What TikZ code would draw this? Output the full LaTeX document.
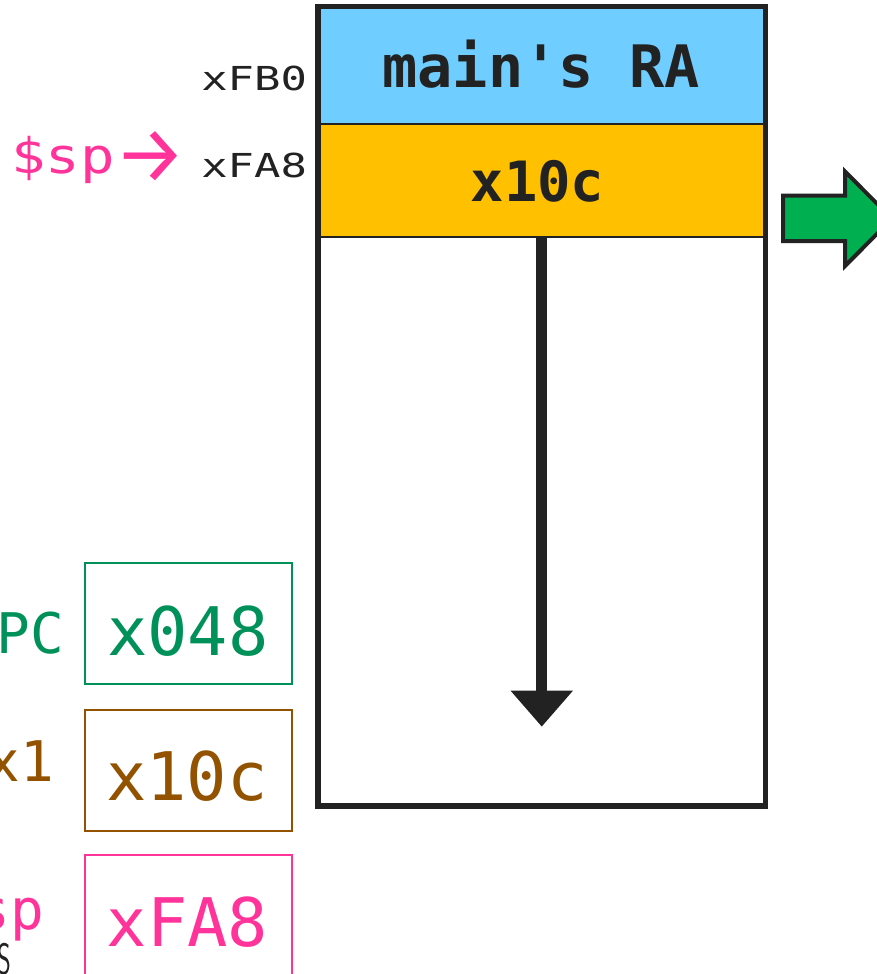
\documentclass[tikz,border=0pt]{standalone}
\usepackage{fontspec}
\setmonofont{DejaVu Sans Mono}
\newfontfamily\symfont{Fira Sans}
\usetikzlibrary{arrows.meta}
\definecolor{ink}{HTML}{222222}
\definecolor{skyfill}{HTML}{6FCDFF}
\definecolor{goldfill}{HTML}{FFC000}
\definecolor{pcgreen}{HTML}{00915A}
\definecolor{regbrown}{HTML}{935200}
\definecolor{sppink}{HTML}{FF3399}
\definecolor{jumpgreen}{HTML}{00B050}
\newcommand\fsz[1]{\fontsize{#1}{#1}\selectfont}

\begin{document}
\begin{tikzpicture}[x=1pt,y=-1pt,
  every node/.style={inner sep=0pt, outer sep=0pt},
  cellbox/.style={minimum width=447.5pt, draw=none},
  celltext/.style={text=ink, anchor=base, font=\ttfamily\bfseries\fsz{#1}},
  regbox/.style={draw=#1, line width=2pt, minimum width=207.3pt, minimum height=120.7pt},
  regval/.style={text=#1, anchor=base, font=\ttfamily\fsz{67}},
  reglabel/.style={text=#1, anchor=base east, font=\ttfamily\fsz{56}},
  addr/.style={text=ink, anchor=base east, font=\ttfamily\fsz{33}},
]
\useasboundingbox (0,0) rectangle (877,974);
\clip (0,0) rectangle (877,974);

% stack frame: return address slot, saved value slot, free space below
\node[cellbox, fill=skyfill, minimum height=117.5pt] (ra) at (541.75,65.25) {};
\node[cellbox, fill=goldfill, minimum height=113pt] (top) at (541.75,180.5) {};
\node[cellbox, minimum height=569pt] (free) at (541.75,521.5) {};
\draw[ink, line width=2.5pt] (ra.south west) -- (ra.south east);
\draw[ink, line width=2.5pt] (top.south west) -- (top.south east);
\draw[ink, line width=5.5pt] (ra.north west) rectangle (free.south east);

\node[celltext=58.5] (ratext) at (541,88) {main's RA};
\node[celltext=55.5] (topval) at (537.5,201.7) {x10c};

% direction of stack growth
\coordinate (growend) at (541.75,726.7);
\draw[ink, line width=10.7pt, -{Triangle[width=60pt,length=36pt]}] (top.south) -- (growend);

% addresses beside the slots
\node[addr] (afb0) at (307,90) {\scalebox{1.33}[1]{xFB0}};
\node[addr] (afa8) at (307,177) {\scalebox{1.33}[1]{xFA8}};
\node[text=sppink, anchor=base west, font=\ttfamily\fsz{49}] (spptr) at (11,173)
  {\scalebox{1.17}[1]{\$sp}{\symfont\fsz{80}\raisebox{-9pt}{→}}};

% next-step arrow
\draw[ink, line width=4pt, fill=jumpgreen, line join=miter]
  (783,195.5) -- (845,195.5) -- (845,171.5) -- (892,218.75)
  -- (845,266) -- (845,241) -- (783,241) -- cycle;

% registers
\node[regbox=pcgreen] (pcbox) at (188.7,623.65) {};
\node[regval=pcgreen] (pcval) at (187.8,655) {x048};
\node[reglabel=pcgreen] (pclabel) at (64,653) {PC};

\node[regbox=regbrown] (xbox) at (188.7,770.35) {};
\node[regval=regbrown] (xval) at (187,800) {x10c};
\node[reglabel=regbrown] (xlabel) at (54,781.7) {x1};

\node[regbox=sppink] (spbox) at (188.7,915.35) {};
\node[regval=sppink] (spval) at (187.5,946.7) {xFA8};
\node[reglabel=sppink] (splabel) at (44,929) {sp};

\node[text=ink, anchor=north west, font=\sffamily\fsz{44}] (cutS) at (-2,943) {\scalebox{0.6}[1]{S}};
\end{tikzpicture}
\end{document}
